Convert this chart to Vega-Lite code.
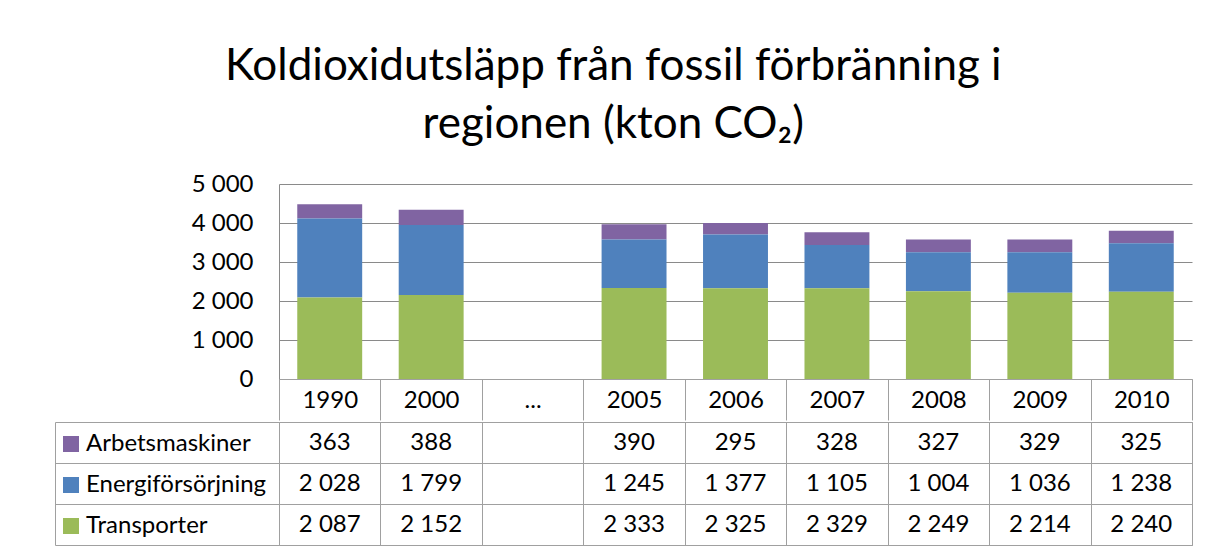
{
  "$schema": "https://vega.github.io/schema/vega-lite/v6.json",
  "padding": {"left": 54, "top": 45, "right": 10, "bottom": 5},
  "autosize": {"type": "pad"},
  "background": "white",
  "title": {
    "text": ["Koldioxidutsläpp från fossil förbränning i", "regionen (kton CO₂)"],
    "font": "Lato", "fontSize": 44, "fontWeight": "normal", "color": "black",
    "anchor": "middle", "lineHeight": 58, "offset": 25, "dx": -10
  },
  "datasets": {
    "emissions": [
      {"year": "1990", "series": "Arbetsmaskiner", "value": 363},
      {"year": "1990", "series": "Energiförsörjning", "value": 2028},
      {"year": "1990", "series": "Transporter", "value": 2087},
      {"year": "2000", "series": "Arbetsmaskiner", "value": 388},
      {"year": "2000", "series": "Energiförsörjning", "value": 1799},
      {"year": "2000", "series": "Transporter", "value": 2152},
      {"year": "2005", "series": "Arbetsmaskiner", "value": 390},
      {"year": "2005", "series": "Energiförsörjning", "value": 1245},
      {"year": "2005", "series": "Transporter", "value": 2333},
      {"year": "2006", "series": "Arbetsmaskiner", "value": 295},
      {"year": "2006", "series": "Energiförsörjning", "value": 1377},
      {"year": "2006", "series": "Transporter", "value": 2325},
      {"year": "2007", "series": "Arbetsmaskiner", "value": 328},
      {"year": "2007", "series": "Energiförsörjning", "value": 1105},
      {"year": "2007", "series": "Transporter", "value": 2329},
      {"year": "2008", "series": "Arbetsmaskiner", "value": 327},
      {"year": "2008", "series": "Energiförsörjning", "value": 1004},
      {"year": "2008", "series": "Transporter", "value": 2249},
      {"year": "2009", "series": "Arbetsmaskiner", "value": 329},
      {"year": "2009", "series": "Energiförsörjning", "value": 1036},
      {"year": "2009", "series": "Transporter", "value": 2214},
      {"year": "2010", "series": "Arbetsmaskiner", "value": 325},
      {"year": "2010", "series": "Energiförsörjning", "value": 1238},
      {"year": "2010", "series": "Transporter", "value": 2240}
    ]
  },
  "config": {
    "locale": {"number": {"decimal": ",", "thousands": " ", "grouping": [3], "currency": ["", " kr"]}},
    "font": "Lato",
    "concat": {"spacing": 0},
    "view": {"stroke": null}
  },
  "spacing": 0,
  "vconcat": [
    {
      "width": 913,
      "height": 195,
      "data": {"name": "emissions"},
      "mark": {"type": "bar", "width": {"band": 0.64}},
      "encoding": {
        "x": {
          "field": "year", "type": "nominal",
          "scale": {"domain": ["1990", "2000", "...", "2005", "2006", "2007", "2008", "2009", "2010"], "paddingInner": 0, "paddingOuter": 0},
          "axis": {
            "title": null, "labelAngle": 0, "labelFontSize": 24, "labelFont": "Lato", "labelColor": "black",
            "tickBand": "extent", "tickSize": 41, "tickColor": "#a0a0a0", "domainColor": "#a0a0a0",
            "labelPadding": -32
          }
        },
        "y": {
          "field": "value", "type": "quantitative", "stack": "zero",
          "scale": {"domain": [0, 5000]},
          "axis": {
            "title": null, "values": [0, 1000, 2000, 3000, 4000, 5000], "format": ",d",
            "grid": true, "gridColor": "#8a8a8a", "gridOpacity": 1, "ticks": false, "domainColor": "#8a8a8a",
            "labelFontSize": 24, "labelFont": "Lato", "labelColor": "black", "labelPadding": 26,
            "minExtent": 224, "maxExtent": 224
          }
        },
        "color": {
          "field": "series", "type": "nominal",
          "scale": {"domain": ["Arbetsmaskiner", "Energiförsörjning", "Transporter"], "range": ["#8064A2", "#4F81BD", "#9BBB59"]},
          "legend": {
            "orient": "none", "legendX": -220, "legendY": 248, "title": null,
            "symbolType": "square", "symbolSize": 256, "symbolStrokeWidth": 0, "symbolOpacity": 1,
            "labelFontSize": 24, "labelFont": "Lato", "labelColor": "black", "labelLimit": 400,
            "rowPadding": 17, "labelOffset": 3, "padding": 0
          }
        },
        "order": {"field": "series", "sort": "descending"}
      }
    },
    {
      "width": 913,
      "height": 123,
      "view": {"stroke": "#a0a0a0"},
      "data": {"name": "emissions"},
      "mark": {"type": "text", "fontSize": 24, "font": "Lato", "color": "black"},
      "encoding": {
        "x": {
          "field": "year", "type": "nominal",
          "scale": {"type": "band", "domain": ["1990", "2000", "...", "2005", "2006", "2007", "2008", "2009", "2010"], "paddingInner": 0, "paddingOuter": 0},
          "axis": {"title": null, "orient": "top", "labels": false, "ticks": false, "domain": false, "grid": true, "tickBand": "extent", "gridColor": "#a0a0a0", "gridOpacity": 1, "minExtent": 0, "maxExtent": 0}
        },
        "y": {
          "field": "series", "type": "nominal",
          "scale": {"type": "band", "domain": ["Arbetsmaskiner", "Energiförsörjning", "Transporter"], "paddingInner": 0, "paddingOuter": 0},
          "axis": {
            "title": null, "labels": false, "offset": 224, "domain": true, "domainColor": "#a0a0a0",
            "ticks": true, "tickSize": -224, "tickColor": "#a0a0a0", "tickBand": "extent",
            "grid": true, "gridColor": "#a0a0a0", "gridOpacity": 1, "minExtent": 0
          }
        },
        "text": {"field": "value", "type": "quantitative", "format": ",d"}
      }
    }
  ]
}
